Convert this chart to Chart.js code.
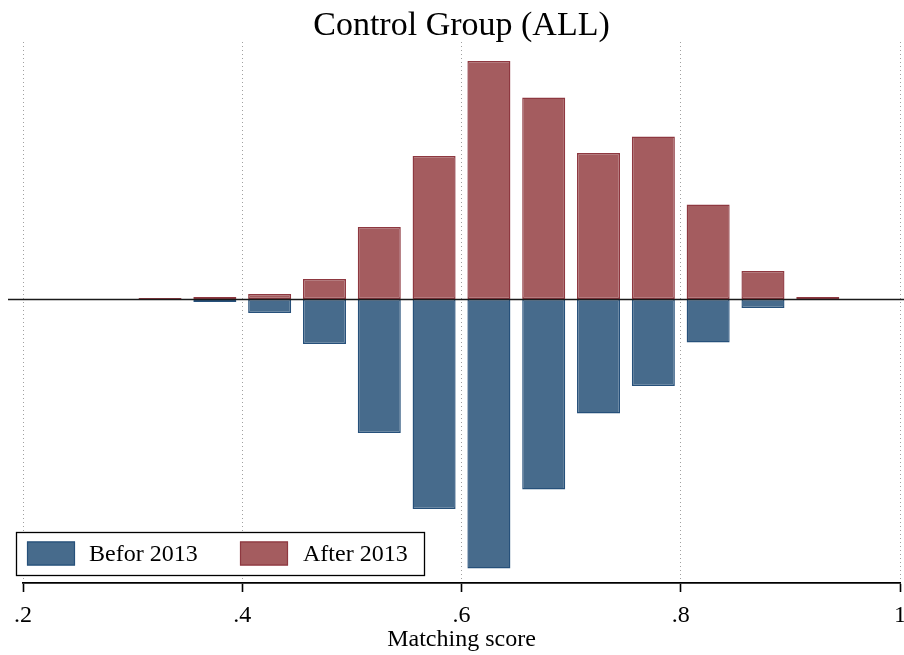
<!DOCTYPE html>
<html>
<head>
<meta charset="utf-8">
<script src="https://cdn.jsdelivr.net/npm/chart.js@4/dist/chart.umd.min.js"></script>
<style>
  html, body { margin: 0; padding: 0; background: #fff; }
  #wrap { position: relative; width: 904px; height: 655px; }
</style>
</head>
<body>
<div id="wrap"><canvas id="c" width="904" height="655"></canvas></div>
<script>
// Bin centres of the matching score histogram
const binCenters = [0.325, 0.375, 0.425, 0.475, 0.525, 0.575, 0.625, 0.675, 0.725, 0.775, 0.825, 0.875, 0.925];
// "After 2013" bar heights (drawn upward)
const afterValues = [0.02, 0.04, 0.10, 0.40, 1.44, 2.86, 4.76, 4.03, 2.92, 3.25, 1.89, 0.56, 0.04];
// "Befor 2013" bar heights (drawn downward, negative)
const beforeValues = [0.00, -0.06, -0.28, -0.90, -2.68, -4.20, -5.39, -3.81, -2.29, -1.74, -0.87, -0.18, -0.02];
// x tick values and labels
const xTickValues = [0.2, 0.4, 0.6, 0.8, 1.0];
const xTickLabels = ['.2', '.4', '.6', '.8', '1'];
const seriesNames = ['Befor 2013', 'After 2013'];

const blueFill = '#476b8c', blueEdge = '#26507a';
const redFill = '#a45c5f', redEdge = '#8e3840';
const serif = "'Liberation Serif', 'Times New Roman', serif";

const zeroLine = {
  id: 'zeroLine',
  afterDatasetsDraw(chart) {
    const y = Math.round(chart.scales.y.getPixelForValue(0)) + 0.5;
    const ctx = chart.ctx;
    ctx.save();
    ctx.strokeStyle = '#1a1a1a';
    ctx.lineWidth = 1.6;
    ctx.beginPath();
    ctx.moveTo(chart.chartArea.left - 15, y);
    ctx.lineTo(chart.width, y);
    ctx.stroke();
    ctx.restore();
  }
};

const boxLegend = {
  id: 'boxLegend',
  afterDraw(chart) {
    const ctx = chart.ctx;
    const ca = chart.chartArea;
    const x0 = 16.5, y0 = ca.bottom - 50.5, w = 408, h = 43;
    ctx.save();
    ctx.fillStyle = '#fff';
    ctx.fillRect(x0, y0, w, h);
    ctx.strokeStyle = '#000';
    ctx.lineWidth = 1.3;
    ctx.strokeRect(x0, y0, w, h);
    const items = [
      {x: 27, fill: blueFill, edge: blueEdge, text: seriesNames[0], tx: 89},
      {x: 240, fill: redFill, edge: redEdge, text: seriesNames[1], tx: 303}
    ];
    items.forEach(it => {
      ctx.fillStyle = it.fill;
      ctx.fillRect(it.x, y0 + 9, 48, 24);
      ctx.strokeStyle = it.edge;
      ctx.lineWidth = 1.2;
      ctx.strokeRect(it.x + 0.5, y0 + 9.5, 47, 23);
      ctx.fillStyle = '#000';
      ctx.font = '24px ' + serif;
      ctx.textBaseline = 'middle';
      ctx.fillText(it.text, it.tx, y0 + h / 2 + 1);
    });
    ctx.restore();
  }
};

new Chart(document.getElementById('c'), {
  type: 'bar',
  data: {
    datasets: [
      {
        label: seriesNames[0],
        data: binCenters.map((x, i) => ({x: x, y: beforeValues[i]})),
        backgroundColor: blueFill,
        borderColor: blueEdge,
        borderWidth: 1.4,
        borderSkipped: false,
        stack: 's'
      },
      {
        label: seriesNames[1],
        data: binCenters.map((x, i) => ({x: x, y: afterValues[i]})),
        backgroundColor: redFill,
        borderColor: redEdge,
        borderWidth: 1.4,
        borderSkipped: false,
        stack: 's'
      }
    ]
  },
  options: {
    responsive: false,
    animation: false,
    events: [],
    categoryPercentage: 1.0,
    barPercentage: 0.785,
    layout: { padding: { left: 23, right: 4, top: 0, bottom: 0 } },
    plugins: {
      legend: { display: false },
      tooltip: { enabled: false },
      title: {
        display: true,
        text: 'Control Group (ALL)',
        color: '#000',
        font: { family: serif, size: 34, weight: 'normal', lineHeight: 1.0 },
        padding: { top: 9, bottom: -1 }
      }
    },
    scales: {
      x: {
        type: 'linear',
        min: 0.2,
        max: 1.0,
        stacked: true,
        offset: false,
        afterBuildTicks(scale) {
          scale.ticks = xTickValues.map(v => ({value: v}));
        },
        afterFit(scale) {
          scale.paddingLeft = 0;
          scale.paddingRight = 0;
          scale.height = 72;
        },
        ticks: {
          color: '#000',
          font: { family: serif, size: 24, lineHeight: 1.0 },
          padding: 12,
          maxRotation: 0,
          autoSkip: false,
          callback(value) {
            const i = xTickValues.findIndex(t => Math.abs(t - value) < 1e-9);
            return i >= 0 ? xTickLabels[i] : '';
          }
        },
        grid: {
          display: true,
          offset: false,
          color: '#a0a0a0',
          lineWidth: 1,
          drawTicks: true,
          tickLength: 9,
          tickColor: '#000',
          tickWidth: 1.6
        },
        border: { display: true, color: '#000', width: 1.8, dash: [1, 3] },
        title: {
          display: true,
          text: 'Matching score',
          color: '#000',
          font: { family: serif, size: 24, lineHeight: 1.0 },
          padding: { top: 0, bottom: 3 }
        }
      },
      y: {
        display: false,
        stacked: true,
        min: -5.68,
        max: 5.14
      }
    }
  },
  plugins: [zeroLine, boxLegend]
});
</script>
</body>
</html>
